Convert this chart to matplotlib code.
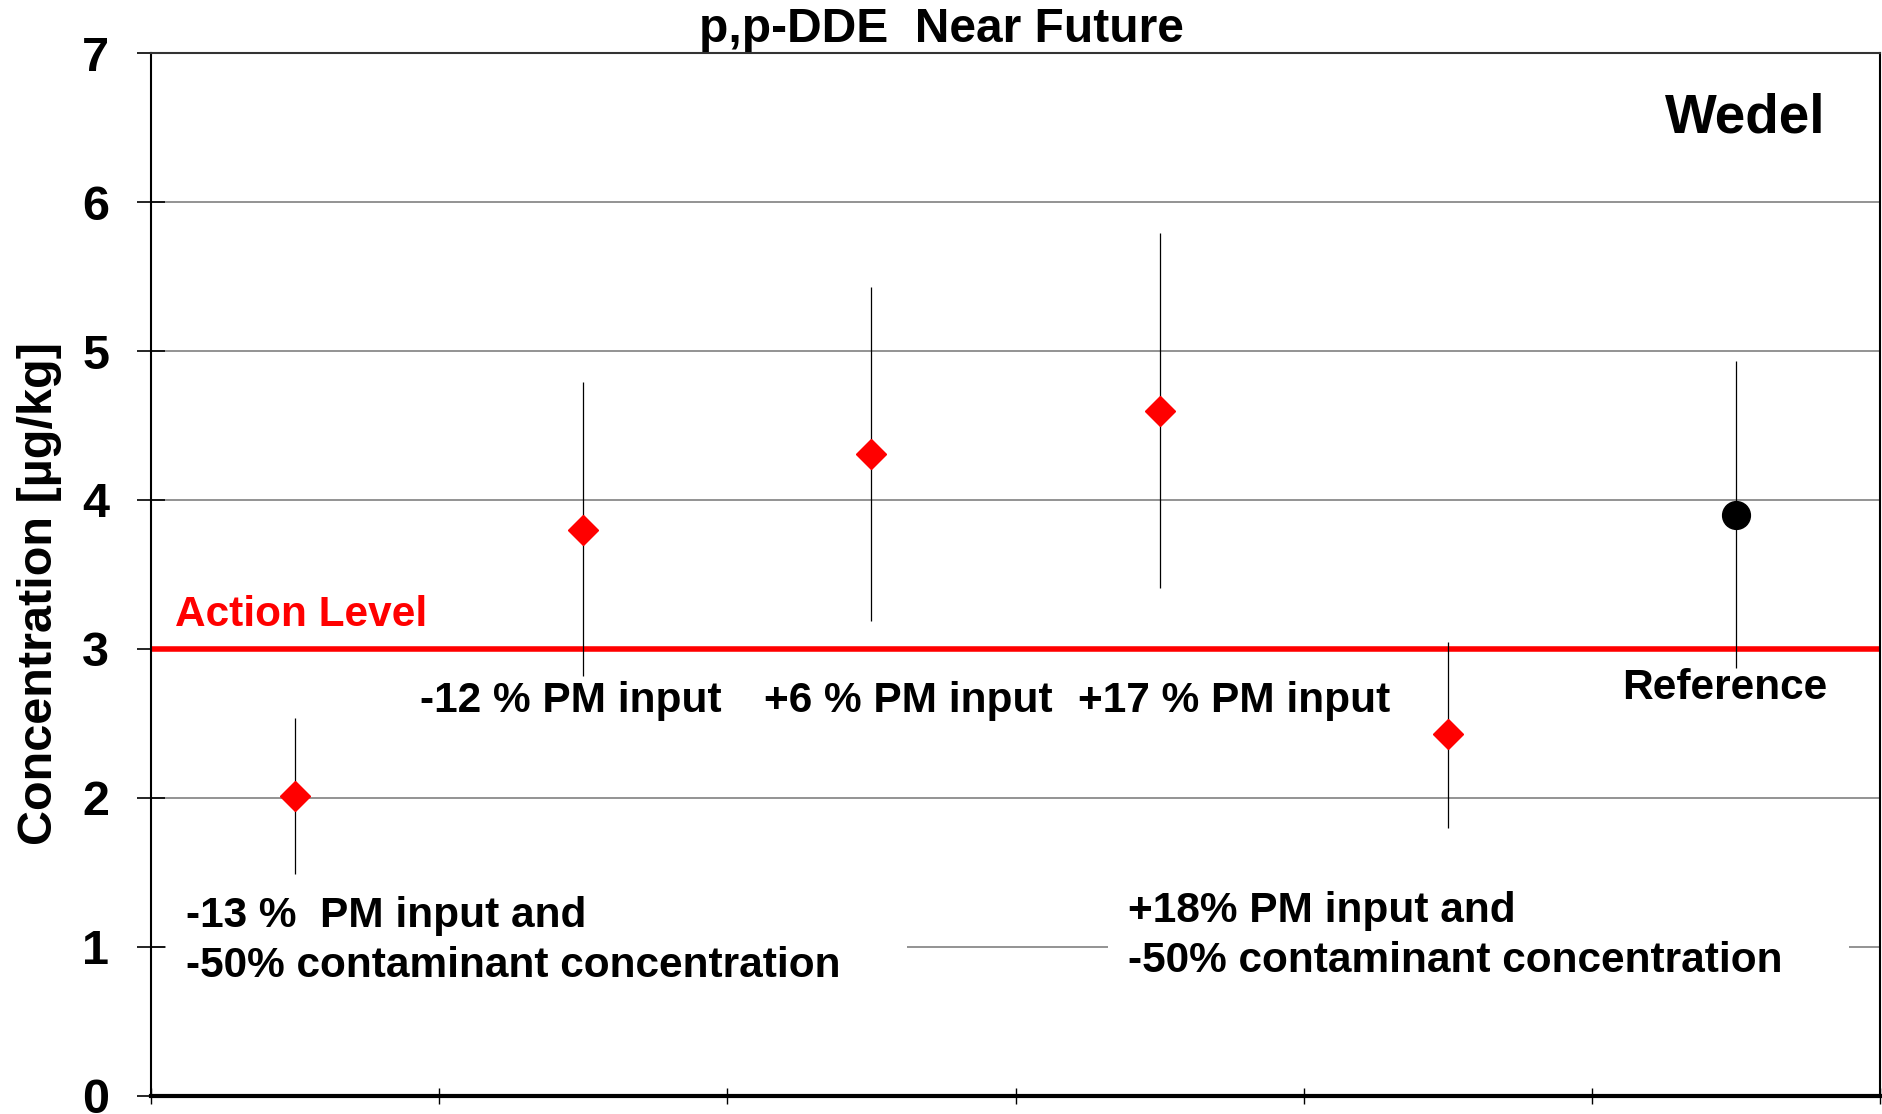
import numpy as np
import matplotlib
matplotlib.use("Agg")
import matplotlib.pyplot as plt

plt.rcParams["font.family"] = ["Liberation Sans", "DejaVu Sans"]
plt.rcParams["font.weight"] = "bold"

# ---------------- data ----------------
scenarios = ["-13 % PM input, -50% conc.", "-12 % PM input", "+6 % PM input",
             "+17 % PM input", "+18% PM input, -50% conc.", "Reference"]
conc_mean = [2.01, 3.80, 4.31, 4.60, 2.43, 3.90]
conc_upper = [2.54, 4.79, 5.43, 5.79, 3.05, 4.93]
conc_lower = [1.49, 2.82, 3.19, 3.41, 1.80, 2.87]
action_level = 3.0
y_ticks = [0, 1, 2, 3, 4, 5, 6, 7]

# ---------------- figure ----------------
fig = plt.figure(figsize=(18.83, 11.14), dpi=100)
ax = fig.add_axes([0.0802, 0.0162, 0.9182, 0.9362])

xpos = np.arange(len(scenarios)) + 0.5
mean = np.array(conc_mean)
yerr = np.vstack([mean - np.array(conc_lower), np.array(conc_upper) - mean])

ax.set_xlim(0, len(scenarios))
ax.set_ylim(0, 7)
ax.set_yticks(y_ticks)
ax.set_xticks(np.arange(len(scenarios) + 1))
ax.set_xticklabels([])
ax.grid(axis="y", color="#808080", linewidth=1.2, zorder=0)
ax.set_axisbelow(True)

ax.axhline(action_level, color="red", linewidth=4, zorder=2)

# scenarios (red diamonds) and reference (black dot)
ax.errorbar(xpos[:-1], mean[:-1], yerr=yerr[:, :-1], fmt="none",
            ecolor="black", elinewidth=0.9, capsize=0, zorder=3)
ax.plot(xpos[:-1], mean[:-1], linestyle="none", marker="D", markersize=15,
        color="red", markeredgecolor="red", zorder=4)
ax.errorbar(xpos[-1:], mean[-1:], yerr=yerr[:, -1:], fmt="none",
            ecolor="black", elinewidth=0.9, capsize=0, zorder=3)
ax.plot(xpos[-1:], mean[-1:], linestyle="none", marker="o", markersize=20,
        color="black", zorder=4)

for s in ["left", "right", "top"]:
    ax.spines[s].set_linewidth(1.5)
ax.spines["bottom"].set_linewidth(3)
ax.spines["top"].set_color("#333333")

ax.tick_params(axis="y", direction="inout", length=20, width=1.2,
               labelsize=35, pad=20)
ax.tick_params(axis="x", direction="inout", length=12, width=1.0)
for lab in ax.get_yticklabels():
    lab.set_fontweight("bold")

fig.text(0.021, 0.467, "Concentration [µg/kg]", rotation=90, fontsize=35,
         fontweight="bold", ha="center", va="center")
fig.text(0.5, 0.962, "p,p-DDE  Near Future", fontsize=34.5, fontweight="bold",
         ha="center", va="baseline")

ax.text(5.81, 6.56, "Wedel", fontsize=39.5, fontweight="bold",
        ha="right", va="center")
ax.text(0.083, 3.23, "Action Level", fontsize=30.5, fontweight="bold",
        color="red", ha="left", va="center")

lbl = dict(fontsize=30.5, fontweight="bold", ha="center", va="center", zorder=5)
ax.text(1.457, 2.65, "-12 % PM input", **lbl)
ax.text(2.627, 2.65, "+6 % PM input", **lbl)
ax.text(3.76, 2.65, "+17 % PM input", **lbl)
ax.text(5.46, 2.74, "Reference", **lbl)

box = dict(facecolor="white", edgecolor="none", pad=14)
ax.text(0.12, 1.04, "-13 %  PM input and\n-50% contaminant concentration    ",
        fontsize=30.5, fontweight="bold", ha="left", va="center",
        linespacing=1.33, bbox=box, zorder=5)
ax.text(3.39, 1.075, "+18% PM input and\n-50% contaminant concentration    ",
        fontsize=30.5, fontweight="bold", ha="left", va="center",
        linespacing=1.33, bbox=box, zorder=5)

fig.savefig("out.png", dpi=100)
